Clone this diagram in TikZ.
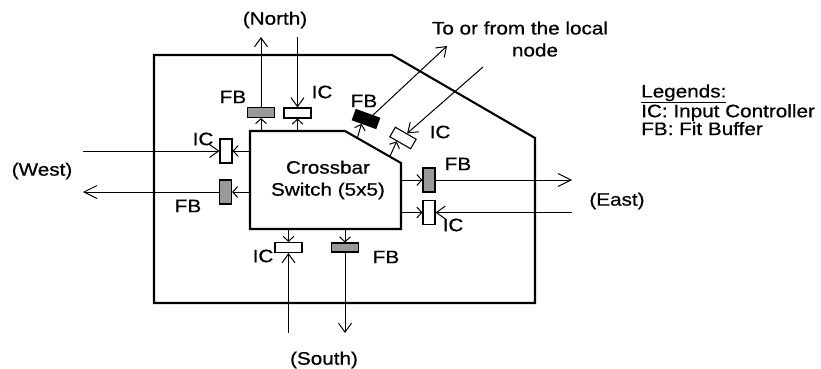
\documentclass[tikz,border=0pt]{standalone}
\usepackage{fontspec}
\setmainfont{Liberation Sans}[FakeStretch=1.15,FakeBold=0.6]
\usetikzlibrary{arrows.meta,calc}
\begin{document}
\begin{tikzpicture}[x=1pt,y=-1pt,
  lbl/.style={font=\fontsize{18}{18}\selectfont, inner sep=0pt},
  wall/.style={line width=2.1pt, line join=miter},
  hbox/.style={draw, line width=1.1pt, inner sep=0pt, minimum width=27pt, minimum height=10pt},
  vbox/.style={draw, line width=1.1pt, inner sep=0pt, minimum width=12pt, minimum height=24pt},
  fbfill/.style={fill=black!40},
  icfill/.style={fill=white},
  big/.style={-{Straight Barb[length=9pt,width=13pt]}, line width=1pt},
  wide/.style={-{Straight Barb[length=13pt,width=13pt]}, line width=1pt},
  sm/.style={-{Straight Barb[length=5pt,width=11pt]}, line width=1pt}]
\useasboundingbox (0,0) rectangle (821,369);
% outer router boundary
\draw[wall] (154,55) -- (392,55) -- (535,138) -- (535,303) -- (154,303) -- cycle;
% crossbar
\coordinate (cb1) at (250,131);
\coordinate (cb2) at (345,131);
\coordinate (cb3) at (401,163);
\coordinate (cb4) at (401,229);
\coordinate (cb5) at (250,229);
\draw[wall] (cb1) -- (cb2) -- (cb3) -- (cb4) -- (cb5) -- cycle;
\node[lbl, align=center, font=\fontsize{18}{22}\selectfont] (xbar) at (328,180) {Crossbar\\Switch (5x5)};
% crossbar ports
\coordinate (cN1) at (261,131);
\coordinate (cN2) at (297.5,131);
\coordinate (cW1) at (250,151);
\coordinate (cW2) at (250,192);
\coordinate (cS1) at (288.5,229);
\coordinate (cS2) at (345,229);
\coordinate (cE1) at (401,180);
\coordinate (cE2) at (401,212.5);
\coordinate (cL1) at ($(cb2)!0.22!(cb3)$);
\coordinate (cL2) at ($(cb2)!0.80!(cb3)$);
% outside ends
\coordinate (nOut) at (261,37);
\coordinate (nIn) at (297.5,37);
\coordinate (wIn) at (83,151);
\coordinate (wOut) at (83,192);
\coordinate (sIn) at (288.5,333);
\coordinate (sOut) at (345,333);
\coordinate (eOut) at (572,180);
\coordinate (eIn) at (572,212.5);
\coordinate (lOut) at (447,46);
\coordinate (lIn) at (483,67);
% buffers and controllers
\node[hbox, fbfill] (fbN) at (261,112.5) {};
\node[hbox, icfill] (icN) at (297.5,113) {};
\node[vbox, icfill] (icW) at (226,151) {};
\node[vbox, fbfill] (fbW) at (225.5,192) {};
\node[hbox, icfill] (icS) at (288.5,247.5) {};
\node[hbox, fbfill, minimum height=9pt] (fbS) at (345,247.5) {};
\node[vbox, fbfill] (fbE) at (429,180) {};
\node[vbox, icfill] (icE) at (429,212.5) {};
\node[hbox, fill=black, minimum width=25pt, minimum height=11pt, rotate=-20] (fbL) at (366,119) {};
\node[hbox, icfill, minimum width=24pt, minimum height=11pt, rotate=-30] (icL) at (403,138) {};
% connectors
\draw[sm] (cN1) -- (fbN.south);
\draw[big] (fbN.north) -- (nOut);
\draw[sm] (cN2) -- (icN.south);
\draw[big] (nIn) -- (icN.north);
\draw[big] (wIn) -- (icW.west);
\draw[sm] (cW1) -- (icW.east);
\draw[sm] (cW2) -- (fbW.east);
\draw[wide] (fbW.west) -- (wOut);
\draw[sm] (cS1) -- (icS.north);
\draw[big] (sIn) -- (icS.south);
\draw[sm] (cS2) -- (fbS.north);
\draw[big] (fbS.south) -- (sOut);
\draw[sm] (cE1) -- (fbE.west);
\draw[wide] (fbE.east) -- (eOut);
\draw[sm] (cE2) -- (icE.west);
\draw[big] (eIn) -- (icE.east);
\draw[sm] (cL1) -- ($(fbL.south west)!0.4!(fbL.south east)$);
\draw[big] ($(fbL.north west)!0.7!(fbL.north east)$) -- (lOut);
\draw[sm] (cL2) -- ($(icL.south west)!0.35!(icL.south east)$);
\draw[big] (lIn) -- ($(icL.north west)!0.55!(icL.north east)$);
% labels
\node[lbl] (tFBN) at (233,97) {FB};
\node[lbl] (tICN) at (322,92) {IC};
\node[lbl] (tFBL) at (364,101) {FB};
\node[lbl] (tICL) at (440,132) {IC};
\node[lbl] (tICW) at (203,139) {IC};
\node[lbl] (tFBW) at (188,206) {FB};
\node[lbl] (tICS) at (263,256) {IC};
\node[lbl] (tFBS) at (386,257) {FB};
\node[lbl] (tFBE) at (458,164) {FB};
\node[lbl] (tICE) at (453,225) {IC};
\node[lbl] (north) at (275,20) {(North)};
\node[lbl] (west) at (42,171) {(West)};
\node[lbl] (south) at (324,360) {(South)};
\node[lbl] (east) at (617,201) {(East)};
\node[lbl] (local1) at (520,28) {To or from the local};
\node[lbl] (local2) at (535,50) {node};
% legend
\node[lbl, anchor=base west, align=left, font=\fontsize{18}{16.5}\selectfont] (legend) at (641,135)
  {\underline{Legends:}\\IC: Input Controller\\FB: Fit Buffer};
\end{tikzpicture}
\end{document}
